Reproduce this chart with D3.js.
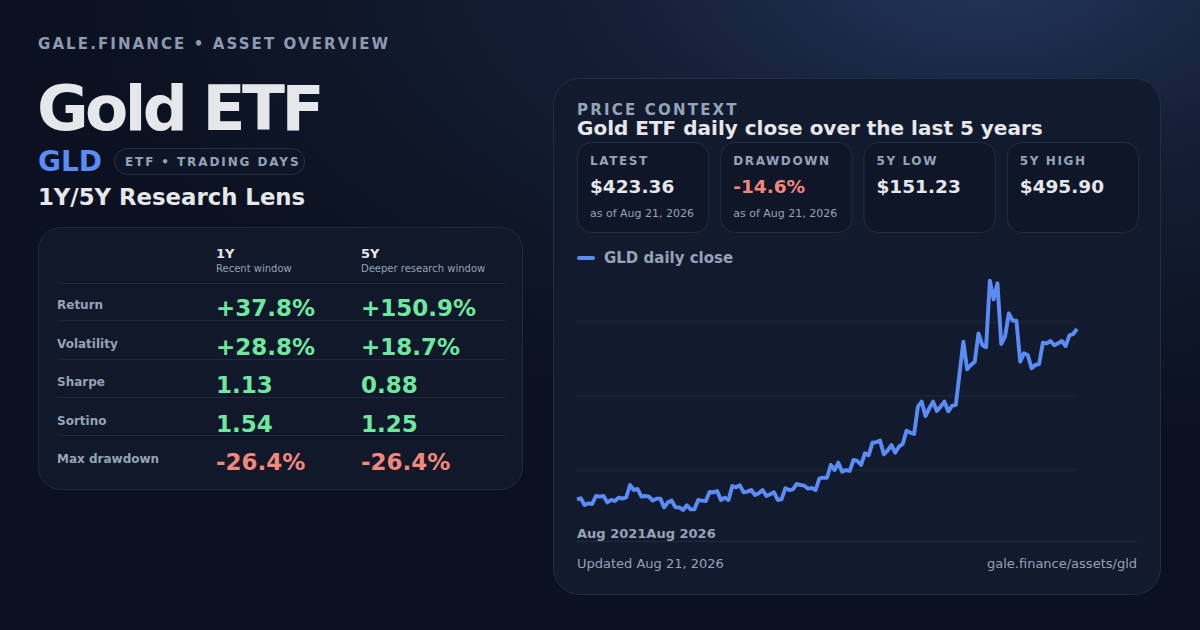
<!DOCTYPE html>
<html>
<head>
<meta charset="utf-8">
<title>Gold ETF overview</title>
<script src="https://d3js.org/d3.v7.min.js"></script>
<style>
    html, body { margin: 0; padding: 0; background: #0c1222; }
    svg { display: block; font-family: "DejaVu Sans", sans-serif; }
</style>
</head>
<body>
<svg width="1200" height="630"></svg>
<script>
// data
const metricLabels = ["Return", "Volatility", "Sharpe", "Sortino", "Max drawdown"];
const oneYear = ["+37.8%", "+28.8%", "1.13", "1.54", "-26.4%"];
const fiveYear = ["+150.9%", "+18.7%", "0.88", "1.25", "-26.4%"];
const statLabels = ["LATEST", "DRAWDOWN", "5Y LOW", "5Y HIGH"];
const statValues = ["$423.36", "-14.6%", "$151.23", "$495.90"];
const statNotes = ["as of Aug 21, 2026", "as of Aug 21, 2026", "", ""];
const xTickLabels = ["Aug 2021", "Aug 2026"];
// GLD close, sampled roughly every 9 trading days
const closes = [
    167.2, 168.7, 158.6, 161.1, 160.1, 172.2, 171.2, 172.2, 162.6, 166.2,
    164.7, 169.7, 168.2, 170.2, 188.7, 181.2, 182.7, 171.2, 172.2, 171.2,
    165.2, 168.2, 168.2, 155.1, 162.6, 165.2, 155.1, 155.1, 151.23, 158.1,
    152.1, 152.1, 166.2, 165.2, 164.7, 178.2, 177.7, 179.7, 166.2, 169.7,
    166.2, 187.2, 185.2, 188.2, 177.7, 178.7, 181.2, 173.7, 176.2, 181.2,
    172.2, 174.7, 177.7, 166.2, 167.2, 183.7, 181.2, 182.2, 190.2, 188.7,
    187.7, 183.2, 184.2, 181.2, 198.7, 199.7, 199.7, 218.8, 211.2, 222.3,
    208.7, 211.2, 209.8, 226.3, 224.8, 218.8, 236.3, 233.3, 252.4, 252.9,
    255.4, 234.8, 240.3, 248.9, 237.3, 246.3, 250.4, 270.4, 267.4, 265.4,
    306.5, 314.0, 292.4, 304.0, 314.0, 300.0, 306.5, 314.0, 299.5, 307.5,
    309.0, 356.6, 404.2, 362.6, 369.1, 374.1, 416.7, 399.2, 395.7, 495.9,
    467.8, 491.9, 400.7, 411.7, 446.8, 435.8, 435.8, 374.1, 386.6, 384.1,
    364.1, 369.1, 370.6, 402.7, 401.7, 405.2, 398.7, 401.7, 405.2, 397.7,
    413.7, 415.7, 423.36
];

const muted = "#94a3b8", bright = "#e5e7eb", green = "#6ee7a0", red = "#f2877c", blue = "#5b8cf5";

const svg = d3.select("svg");

// background + glow
const defs = svg.append("defs");
const glow = defs.append("radialGradient").attr("id", "glow")
    .attr("cx", "82%").attr("cy", "-5%").attr("r", "75%");
glow.append("stop").attr("offset", "0%").attr("stop-color", "#22355a");
glow.append("stop").attr("offset", "45%").attr("stop-color", "#141d33");
glow.append("stop").attr("offset", "100%").attr("stop-color", "#0b1120");
svg.append("rect").attr("width", 1200).attr("height", 630).attr("fill", "url(#glow)");

// header
svg.append("text").attr("x", 38).attr("y", 49)
    .attr("fill", "#8c9ab2").style("font-size", "15px").style("font-weight", "bold")
    .style("letter-spacing", "2.1px").text("GALE.FINANCE • ASSET OVERVIEW");

svg.append("text").attr("x", 37).attr("y", 130)
    .attr("fill", bright).style("font-size", "63px").style("font-weight", "bold")
    .style("letter-spacing", "-3.6px").text("Gold ETF");

svg.append("text").attr("x", 38).attr("y", 171)
    .attr("fill", blue).style("font-size", "28px").style("font-weight", "bold").text("GLD");

svg.append("rect").attr("x", 114.5).attr("y", 148.5).attr("width", 190).attr("height", 26).attr("rx", 13)
    .attr("fill", "#0e1526").attr("stroke", "#243049");
svg.append("text").attr("x", 125).attr("y", 166)
    .attr("fill", muted).style("font-size", "12px").style("font-weight", "bold")
    .style("letter-spacing", "1.9px").text("ETF • TRADING DAYS");

svg.append("text").attr("x", 38).attr("y", 205)
    .attr("fill", bright).style("font-size", "22.8px").style("font-weight", "bold").text("1Y/5Y Research Lens");

// metrics table
svg.append("rect").attr("x", 38.5).attr("y", 227.5).attr("width", 484).attr("height", 262).attr("rx", 22)
    .attr("fill", "#111829").attr("stroke", "#1f2a3f");

const colX = [216, 361];
const heads = [["1Y", "Recent window"], ["5Y", "Deeper research window"]];
heads.forEach((h, i) => {
    svg.append("text").attr("x", colX[i]).attr("y", 258).attr("fill", bright)
        .style("font-size", "13px").style("font-weight", "bold").text(h[0]);
    svg.append("text").attr("x", colX[i]).attr("y", 272).attr("fill", muted)
        .style("font-size", "10px").text(h[1]);
});

const rowY = d3.scalePoint().domain(metricLabels).range([316, 470]);
const lineYs = [283.5, 320.5, 359.5, 397.5, 435.5];
svg.selectAll(".rowline").data(lineYs).enter().append("line")
    .attr("x1", 57).attr("x2", 505).attr("y1", d => d).attr("y2", d => d)
    .attr("stroke", "#1f2a40");

const rows = svg.selectAll(".row").data(metricLabels).enter().append("g")
    .attr("transform", d => `translate(0,${rowY(d)})`);
rows.append("text").attr("x", 57).attr("y", -7).attr("fill", muted)
    .style("font-size", "12px").style("font-weight", "bold").text(d => d);
const tone = v => v.startsWith("-") ? red : green;
rows.append("text").attr("x", colX[0]).attr("y", 0)
    .attr("fill", (d, i) => tone(oneYear[i]))
    .style("font-size", "23px").style("font-weight", "bold").text((d, i) => oneYear[i]);
rows.append("text").attr("x", colX[1]).attr("y", 0)
    .attr("fill", (d, i) => tone(fiveYear[i]))
    .style("font-size", "23px").style("font-weight", "bold").text((d, i) => fiveYear[i]);

// price card
svg.append("rect").attr("x", 553.5).attr("y", 78.5).attr("width", 607).attr("height", 516).attr("rx", 26)
    .attr("fill", "#121a2d").attr("stroke", "#222d44");

svg.append("text").attr("x", 577).attr("y", 115).attr("fill", muted)
    .style("font-size", "15px").style("font-weight", "bold").style("letter-spacing", "2.2px")
    .text("PRICE CONTEXT");
svg.append("text").attr("x", 577).attr("y", 135).attr("fill", bright)
    .style("font-size", "20px").style("font-weight", "bold")
    .text("Gold ETF daily close over the last 5 years");

const boxX = d3.scaleBand().domain(statLabels).range([577, 1138]).paddingInner(0.0838).paddingOuter(0);
const boxes = svg.selectAll(".stat").data(statLabels).enter().append("g")
    .attr("transform", d => `translate(${boxX(d)},142)`);
boxes.append("rect").attr("x", 0.5).attr("y", 0.5).attr("width", boxX.bandwidth()).attr("height", 90).attr("rx", 14)
    .attr("fill", "#0f1628").attr("stroke", "#222c42");
boxes.append("text").attr("x", 13).attr("y", 23).attr("fill", muted)
    .style("font-size", "12px").style("font-weight", "bold").style("letter-spacing", "1.6px").text(d => d);
boxes.append("text").attr("x", 13).attr("y", 51)
    .attr("fill", (d, i) => statValues[i].startsWith("-") ? red : bright)
    .style("font-size", "18.5px").style("font-weight", "bold").text((d, i) => statValues[i]);
boxes.append("text").attr("x", 13).attr("y", 75).attr("fill", muted)
    .style("font-size", "11px").text((d, i) => statNotes[i]);

// legend
svg.append("line").attr("x1", 579).attr("x2", 593).attr("y1", 258).attr("y2", 258)
    .attr("stroke", blue).attr("stroke-width", 4).attr("stroke-linecap", "round");
svg.append("text").attr("x", 604).attr("y", 263).attr("fill", muted)
    .style("font-size", "15px").style("font-weight", "bold").text("GLD daily close");

// line chart
const plot = svg.append("g").attr("transform", "translate(577,248)");
const pw = 500, ph = 296;
const x = d3.scaleLinear().domain([0, closes.length - 1]).range([0, pw]);
const y = d3.scaleLinear().domain([100, 545]).range([ph, 0]);

const gridVals = [1, 2, 3].map(k => 100 + (545 - 100) * k / 4);
plot.selectAll(".grid").data(gridVals).enter().append("line")
    .attr("x1", 0).attr("x2", pw).attr("y1", d => y(d)).attr("y2", d => y(d))
    .attr("stroke", "#1f2a3e").attr("stroke-width", 1.2);

plot.append("path").datum(closes)
    .attr("fill", "none").attr("stroke", blue).attr("stroke-width", 3.9)
    .attr("stroke-linejoin", "round")
    .attr("d", d3.line().x((d, i) => x(i)).y(d => y(d)));

// x labels sit side by side, as in the card
const xl = svg.append("text").attr("x", 577).attr("y", 538).attr("fill", muted)
    .style("font-size", "13px").style("font-weight", "bold");
xTickLabels.forEach(t => xl.append("tspan").text(t));

svg.append("line").attr("x1", 577).attr("x2", 1137).attr("y1", 541.5).attr("y2", 541.5)
    .attr("stroke", "#1f2a40");

svg.append("text").attr("x", 577).attr("y", 568).attr("fill", muted)
    .style("font-size", "13px").text("Updated Aug 21, 2026");
svg.append("text").attr("x", 1137).attr("y", 568).attr("fill", muted).attr("text-anchor", "end")
    .style("font-size", "13px").text("gale.finance/assets/gld");
</script>
</body>
</html>
